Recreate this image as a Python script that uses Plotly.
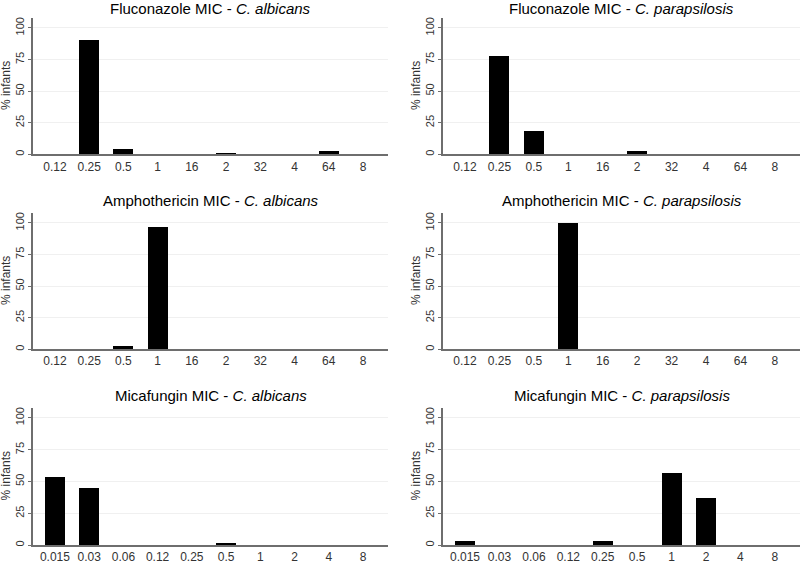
import plotly.graph_objects as go
from plotly.subplots import make_subplots

# MIC categories (sorted as strings, as in the original)
flu_cats = ["0.12", "0.25", "0.5", "1", "16", "2", "32", "4", "64", "8"]
amp_cats = ["0.12", "0.25", "0.5", "1", "16", "2", "32", "4", "64", "8"]
mica_cats = ["0.015", "0.03", "0.06", "0.12", "0.25", "0.5", "1", "2", "4", "8"]

# % infants
flu_alb = [0, 90.8, 4.2, 0, 0, 1.1, 0, 0, 2.7, 0]
flu_para = [0, 78.0, 18.9, 0, 0, 2.7, 0, 0, 0, 0]
amp_alb = [0, 0, 2.6, 97.0, 0, 0, 0, 0, 0, 0]
amp_para = [0, 0, 0, 100, 0, 0, 0, 0, 0, 0]
mica_alb = [54.0, 45.0, 0, 0, 0, 1.8, 0, 0, 0, 0]
mica_para = [3.6, 0, 0, 0, 3.6, 0, 57.1, 37.7, 0, 0]

panels = [
    ("Fluconazole MIC", "C. albicans", flu_cats, flu_alb),
    ("Fluconazole MIC", "C. parapsilosis", flu_cats, flu_para),
    ("Amphothericin MIC", "C. albicans", amp_cats, amp_alb),
    ("Amphothericin MIC", "C. parapsilosis", amp_cats, amp_para),
    ("Micafungin MIC", "C. albicans", mica_cats, mica_alb),
    ("Micafungin MIC", "C. parapsilosis", mica_cats, mica_para),
]

W, H = 800, 564
FONT = "Liberation Sans, Arial, sans-serif"

# pixel layout of each row (top of axis, zero line) and column (left, right)
rows_px = [(17, 155), (214, 352), (411, 550)]
cols_px = [(33, 388), (443, 800)]
title_y_px = [8, 202, 399]


def py(px):
    return 1 - px / H


fig = make_subplots(rows=3, cols=2)

for i, (drug, species, cats, vals) in enumerate(panels):
    r, c = i // 2, i % 2
    fig.add_trace(
        go.Bar(x=list(range(len(cats))), y=vals, width=0.58,
               marker=dict(color="black", line=dict(width=0)),
               showlegend=False, hoverinfo="skip"),
        row=r + 1, col=c + 1,
    )
    top, zero = rows_px[r]
    left, right = cols_px[c]
    fig.update_xaxes(
        domain=[left / W, right / W], range=[-0.64, 9.73],
        tickmode="array", tickvals=list(range(len(cats))), ticktext=cats,
        showgrid=False, zeroline=False, showline=True, linecolor="#6e6e6e",
        linewidth=1.5, ticks="", tickfont=dict(size=12, color="#333333"),
        row=r + 1, col=c + 1,
    )
    fig.update_yaxes(
        domain=[py(zero), py(top)], range=[0, 108],
        tickvals=[0, 25, 50, 75, 100], tickangle=-90,
        showgrid=True, gridcolor="#f0f0f0", zeroline=False,
        showline=True, linecolor="#6e6e6e", linewidth=1.5,
        ticks="outside", ticklen=3, tickcolor="#6e6e6e",
        tickfont=dict(size=11, color="#333333"),
        row=r + 1, col=c + 1,
    )
    fig.add_annotation(
        text=f"{drug} - <i>{species}</i>", xref="paper", yref="paper",
        x=(left + right) / 2 / W, y=py(title_y_px[r]),
        xanchor="center", yanchor="middle",
        showarrow=False, font=dict(size=15, color="black"),
    )
    fig.add_annotation(
        text="% infants", xref="paper", yref="paper",
        x=(left - 27) / W, y=py((top + zero) / 2), textangle=-90,
        xanchor="center", yanchor="middle",
        showarrow=False, font=dict(size=12, color="#333333"),
    )

fig.update_layout(
    width=W, height=H, margin=dict(l=0, r=0, t=0, b=0),
    plot_bgcolor="white", paper_bgcolor="white",
    font=dict(family=FONT), bargap=0,
)

# pin the figure to the window corner
fig.write_html("out.html", config={"displayModeBar": False},
               post_script="document.body.style.margin = '0';")
